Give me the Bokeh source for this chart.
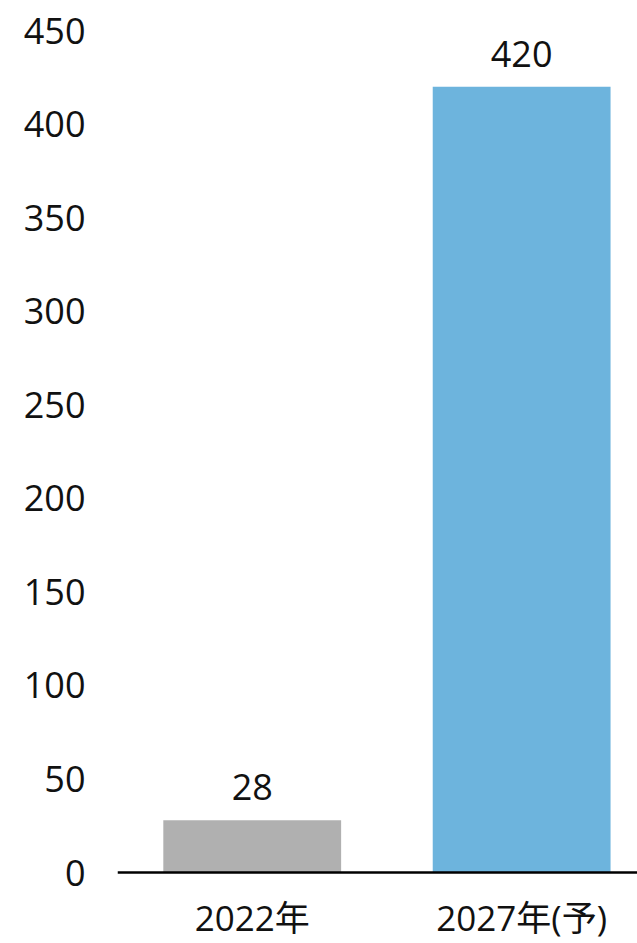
from bokeh.plotting import figure
from bokeh.models import ColumnDataSource, Range1d, FixedTicker, LabelSet, Span
from bokeh.core.properties import value
from bokeh.embed import file_html
from bokeh.resources import INLINE

categories = ["2022年", "2027年(予)"]
values = [28, 420]
colors = ["#b0b0b0", "#6db4dd"]
value_labels = ["28", "420"]
y_ticks = [0, 50, 100, 150, 200, 250, 300, 350, 400, 450]

xpos = [i + 0.5 for i in range(len(categories))]
src = ColumnDataSource(dict(x=xpos, top=values, color=colors, label=value_labels,
                            cat=categories, zero=[0] * len(categories)))

FONT = "Open Sans, Noto Sans CJK JP"
FS = "36px"
TC = "#111111"

# frame extends below the zero line to leave room for the category labels
p = figure(width=637, height=943, output_backend="svg", toolbar_location=None,
           x_range=Range1d(0, 1.93), y_range=Range1d(-37.9, 450))
p.min_border_left = 117
p.min_border_right = 0
p.min_border_top = 30
p.min_border_bottom = 0
p.outline_line_color = None
p.xgrid.grid_line_color = None
p.ygrid.grid_line_color = None
p.background_fill_color = "white"
p.border_fill_color = "white"
p.xaxis.visible = False

p.vbar(x="x", top="top", width=0.66, bottom=0, color="color", line_color=None, source=src)

p.add_layout(Span(location=0, dimension="width", line_color="black", line_width=2.5))

vlabels = LabelSet(x="x", y="top", text="label", source=src, text_align="center",
                   text_baseline="middle", y_offset=33, text_font_size=FS,
                   text_font=value(FONT), text_color=TC)
p.add_layout(vlabels)

clabels = LabelSet(x="x", y="zero", text="cat", source=src, text_align="center",
                   text_baseline="middle", y_offset=-45, text_font_size="35px",
                   text_font=value(FONT), text_color=TC)
p.add_layout(clabels)

p.yaxis.ticker = FixedTicker(ticks=y_ticks)
p.yaxis.axis_line_color = None
p.yaxis.major_tick_line_color = None
p.yaxis.minor_tick_line_color = None
p.yaxis.major_label_standoff = 26
p.yaxis.major_label_text_font_size = FS
p.yaxis.major_label_text_font = FONT
p.yaxis.major_label_text_color = TC

open("out.html", "w").write(file_html(p, INLINE))
